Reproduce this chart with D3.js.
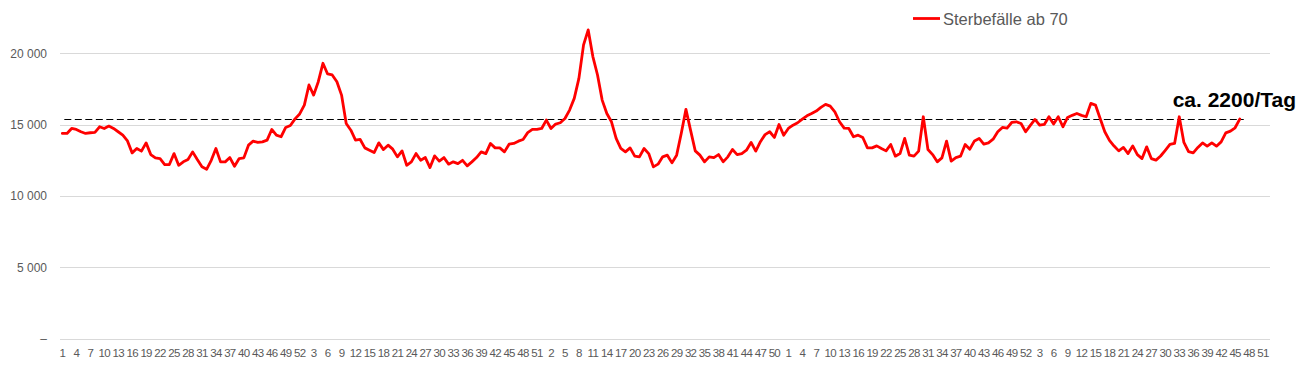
<!DOCTYPE html>
<html>
<head>
<meta charset="utf-8">
<script src="https://cdn.jsdelivr.net/npm/d3@7"></script>
<style>
  body { margin: 0; background: #fff; }
  svg { display: block; font-family: "Liberation Sans", Arial, sans-serif; }
</style>
</head>
<body>
<svg width="1305" height="367"></svg>
<script>
// Sterbefaelle ab 70, weekly, 2016 - 2020 (week 46)
var years = [2016, 2017, 2018, 2019, 2020];
var weeksPerYear = [52, 52, 52, 52, 52];

var deaths2016 = [14380, 14380, 14730, 14660, 14500, 14380, 14430, 14450, 14850, 14730,
    14900, 14730, 14500, 14260, 13860, 13020, 13330, 13140, 13720, 12900,
    12670, 12620, 12200, 12200, 12970, 12150, 12390, 12550, 13090, 12550,
    12040, 11870, 12500, 13330, 12390, 12390, 12690, 12080, 12620, 12670,
    13560, 13840, 13750, 13790, 13910, 14660, 14260, 14150, 14800, 14940,
    15400, 15750];
var deaths2017 = [16370, 17780, 17070, 18010, 19300, 18550, 18480, 18010, 17070, 15080,
    14610, 13910, 13960, 13370, 13210, 13040, 13720, 13250, 13560, 13280,
    12740, 13160, 12150, 12390, 12970, 12500, 12690, 11990, 12810, 12440,
    12690, 12230, 12390, 12270, 12500, 12110, 12390, 12690, 13090, 12970,
    13680, 13370, 13370, 13090, 13630, 13680, 13840, 13960, 14440, 14670,
    14670, 14730];
var deaths2018 = [15320, 14730, 15040, 15130, 15430, 16020, 16840, 18240, 20590, 21640,
    19770, 18480, 16720, 15780, 15200, 14030, 13330, 13090, 13370, 12790,
    12740, 13330, 12970, 12040, 12230, 12740, 12860, 12320, 12860, 14400,
    16070, 14600, 13160, 12860, 12390, 12740, 12690, 12900, 12390, 12740,
    13260, 12900, 12970, 13210, 13750, 13140, 13800, 14300, 14500, 14100,
    15010, 14260];
var deaths2019 = [14730, 14960, 15130, 15390, 15620, 15780, 15950, 16210, 16420, 16300,
    15900, 15200, 14750, 14730, 14150, 14260, 14100, 13370, 13370, 13510,
    13330, 13160, 13610, 12790, 12970, 14030, 12860, 12790, 13140, 15550,
    13260, 12900, 12390, 12670, 13840, 12440, 12690, 12790, 13610, 13280,
    13860, 14030, 13630, 13720, 13980, 14500, 14800, 14760, 15150, 15200,
    15080, 14500];
var deaths2020 = [14950, 15360, 14960, 15010, 15550, 15040, 15550, 14850, 15500, 15650,
    15780, 15650, 15550, 16490, 16370, 15430, 14500, 13900, 13500, 13160,
    13400, 12970, 13510, 12900, 12620, 13440, 12620, 12510, 12800, 13200,
    13610, 13680, 15550, 13750, 13100, 13020, 13400, 13720, 13490, 13720,
    13490, 13790, 14420, 14540, 14780, 15390];

var yTicks = [0, 5000, 10000, 15000, 20000];
var refValue = 15400;                 // ca. 2200 pro Tag * 7
var refLabel = "ca. 2200/Tag";
var seriesName = "Sterbefälle ab 70";

// category labels (week numbers) across all years
var weeks = [];
weeksPerYear.forEach(function (n) {
    for (var w = 1; w <= n; w++) weeks.push(w);
});
var deaths = [].concat(deaths2016, deaths2017, deaths2018, deaths2019, deaths2020);

var svg = d3.select("svg");
var plot = { left: 60, right: 1270, top: 53.3, bottom: 338.6 };

var x = d3.scaleBand()
    .domain(d3.range(weeks.length))
    .range([plot.left, plot.right]);
var cx = function (i) { return x(i) + x.bandwidth() / 2; };

var y = d3.scaleLinear()
    .domain([0, 20000])
    .range([plot.bottom, plot.top]);

// gridlines
svg.append("g")
    .selectAll("line")
    .data(yTicks)
    .enter().append("line")
    .attr("x1", plot.left)
    .attr("x2", plot.right)
    .attr("y1", function (d) { return Math.round(y(d)) + 0.5; })
    .attr("y2", function (d) { return Math.round(y(d)) + 0.5; })
    .attr("stroke", "#d9d9d9")
    .attr("stroke-width", 1);

// y axis labels
var fmt = function (d) {
    if (d === 0) return "–";
    return d3.format(",")(d).replace(/,/g, " ");
};
var yAxis = d3.axisLeft(y)
    .tickValues(yTicks)
    .tickFormat(fmt)
    .tickSize(0)
    .tickPadding(0);
var gy = svg.append("g")
    .attr("transform", "translate(47,0)")
    .call(yAxis);
gy.select(".domain").remove();
gy.selectAll("text")
    .attr("fill", "#595959")
    .attr("font-size", "12px");

// x axis labels: every third week
var xAxis = d3.axisBottom(x)
    .tickValues(d3.range(0, weeks.length, 3))
    .tickFormat(function (i) { return weeks[i]; })
    .tickSize(0)
    .tickPadding(0);
var gx = svg.append("g")
    .attr("transform", "translate(0,349)")
    .call(xAxis);
gx.select(".domain").remove();
gx.selectAll("text")
    .attr("fill", "#595959")
    .attr("font-size", "11.5px")
    .attr("letter-spacing", "-0.7px");

// reference line
var refIdx = [0, deaths.length - 1];
var refY = Math.round(y(refValue)) + 0.5;
svg.append("line")
    .attr("x1", cx(refIdx[0]) + 2)
    .attr("x2", cx(refIdx[1]) + 4)
    .attr("y1", refY)
    .attr("y2", refY)
    .attr("stroke", "#000")
    .attr("stroke-width", 1)
    .attr("stroke-dasharray", "7,3.5");

svg.append("text")
    .attr("x", 1296)
    .attr("y", 106.5)
    .attr("text-anchor", "end")
    .attr("font-weight", "bold")
    .attr("font-size", "21px")
    .attr("fill", "#000")
    .text(refLabel);

// data line
var line = d3.line()
    .x(function (d, i) { return cx(i); })
    .y(function (d) { return y(d); });

svg.append("path")
    .datum(deaths)
    .attr("d", line)
    .attr("fill", "none")
    .attr("stroke", "#ff0000")
    .attr("stroke-width", 2.8)
    .attr("stroke-linejoin", "round")
    .attr("stroke-linecap", "round");

// legend
svg.append("line")
    .attr("x1", 913)
    .attr("x2", 940)
    .attr("y1", 18.5)
    .attr("y2", 18.5)
    .attr("stroke", "#ff0000")
    .attr("stroke-width", 2.8);
svg.append("text")
    .attr("x", 943)
    .attr("y", 24.5)
    .attr("font-size", "16.5px")
    .attr("fill", "#595959")
    .text(seriesName);
</script>
</body>
</html>
